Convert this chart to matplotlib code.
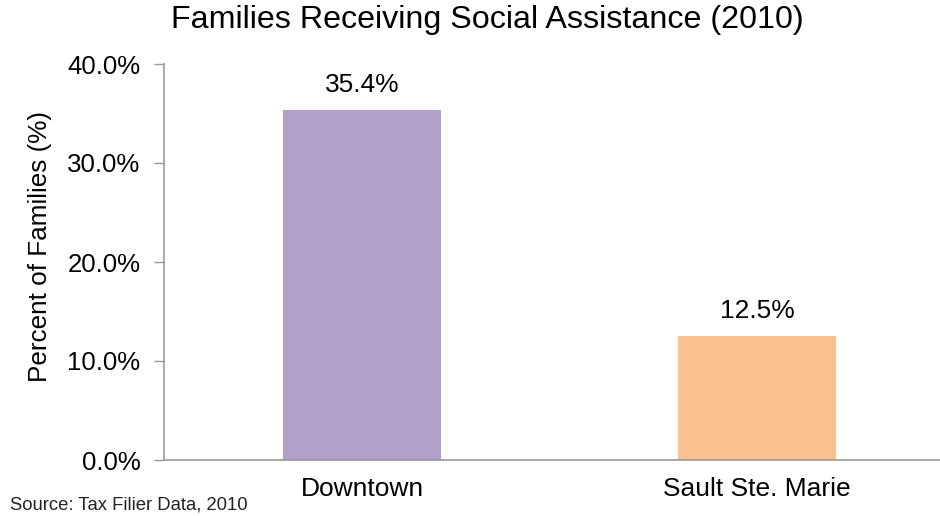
import matplotlib
matplotlib.use("Agg")
import matplotlib.pyplot as plt
from matplotlib.ticker import FuncFormatter

categories = ["Downtown", "Sault Ste. Marie"]
values = [35.4, 12.5]
value_labels = ["35.4%", "12.5%"]
colors = ["#B1A0C7", "#FAC090"]
yticks = [0, 10, 20, 30, 40]

plt.rcParams['font.family'] = ['Liberation Sans', 'DejaVu Sans']

fig = plt.figure(figsize=(9.4, 5.16), dpi=100)
ax = fig.add_axes([164/940, 1-460/516, 1-164/940, (460-64)/516])

x = list(range(len(categories)))
ax.bar(x, values, width=0.4, color=colors)
for xi, v, lab in zip(x, values, value_labels):
    ax.text(xi, v + 1.3, lab, ha='center', va='bottom', fontsize=19, color='black')

ax.set_ylim(0, 40)
ax.set_xlim(-0.501, 1.463)
ax.set_yticks(yticks)
ax.yaxis.set_major_formatter(FuncFormatter(lambda v, p: f"{v:.1f}%"))
ax.set_xticks(x)
ax.set_xticklabels(categories)
ax.tick_params(axis='y', direction='out', length=7, width=1, color='#999999', labelsize=18.6, pad=10)
ax.tick_params(axis='x', length=0, labelsize=19, pad=12)
for s in ['top', 'right']:
    ax.spines[s].set_visible(False)
for s in ['left', 'bottom']:
    ax.spines[s].set_color('#999999')
    ax.spines[s].set_linewidth(1.2)
ax.set_ylabel("Percent of Families (%)", fontsize=18.8)
ax.yaxis.set_label_coords(-0.144, 0.54)

fig.text(487/940, 1-20/516, "Families Receiving Social Assistance (2010)", ha='center', va='center', fontsize=23.2)
fig.text(10/940, 1-505/516, "Source: Tax Filier Data, 2010", ha='left', va='center', fontsize=13.3, color='#222222')

fig.savefig("out.png", dpi=100)
